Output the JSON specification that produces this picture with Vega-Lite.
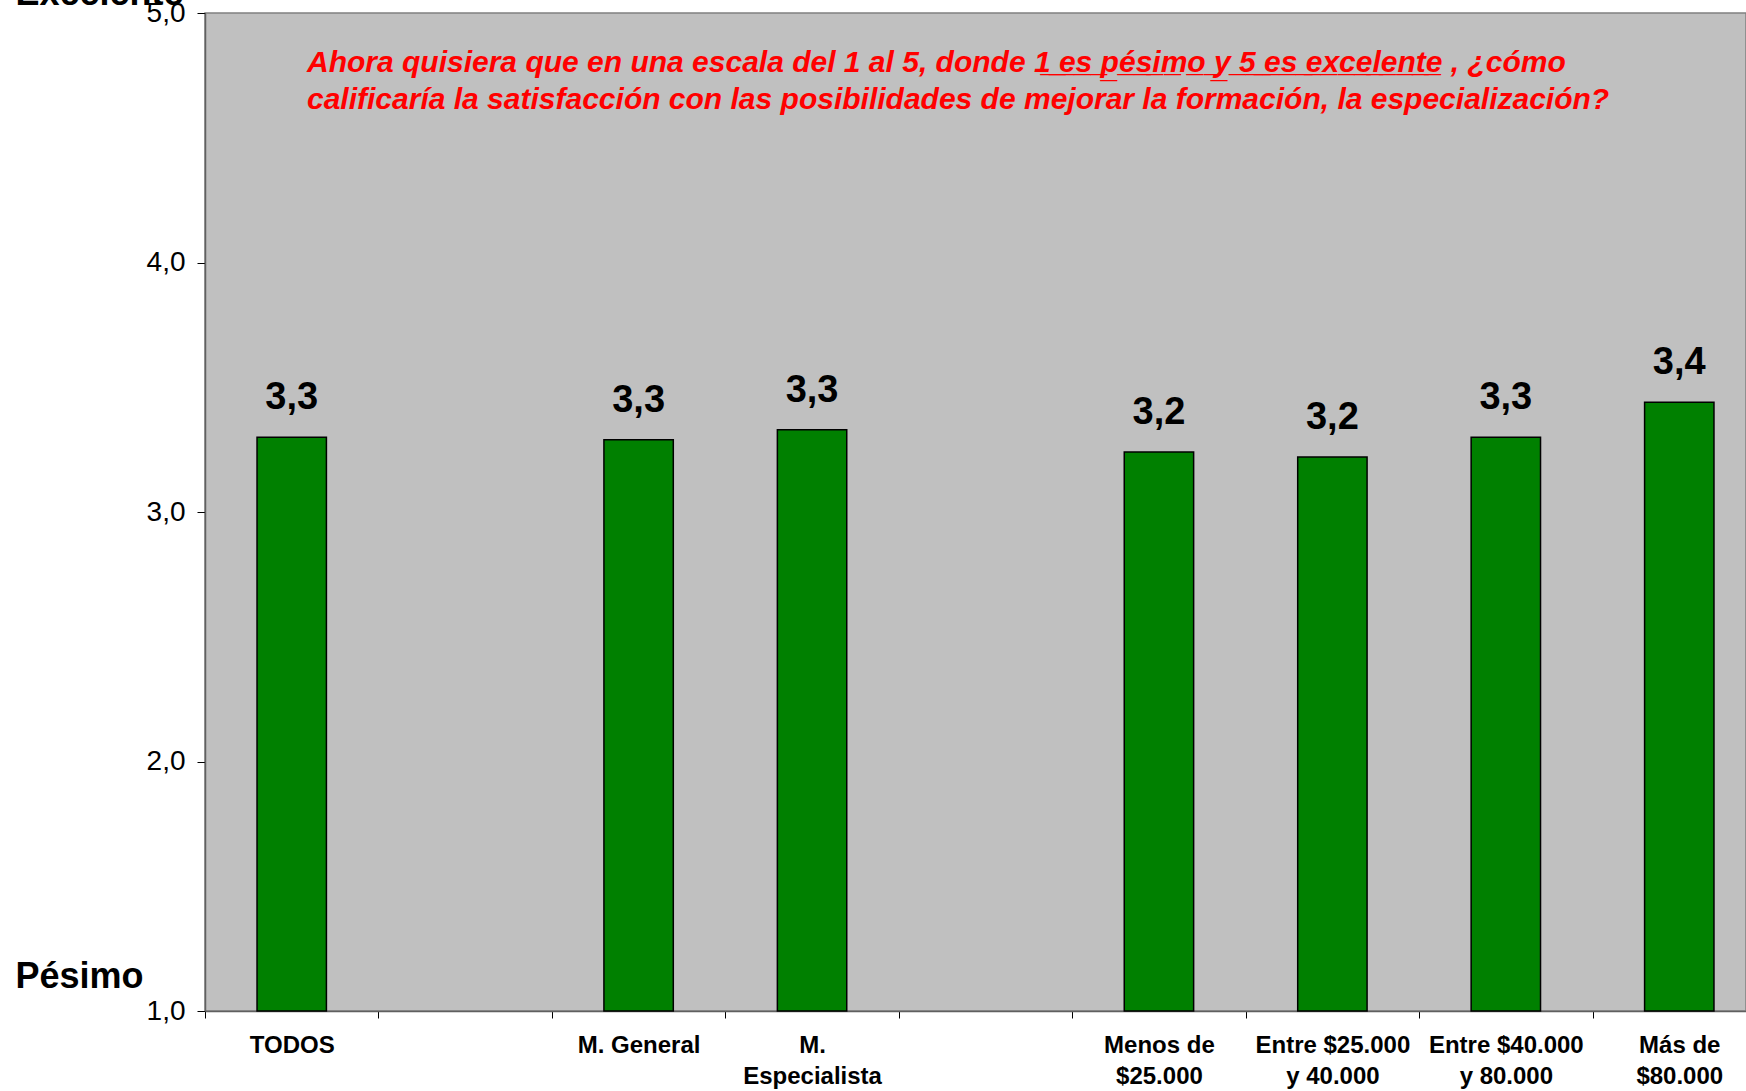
{
  "$schema": "https://vega.github.io/schema/vega-lite/v6.json",
  "width": 1541,
  "height": 998,
  "autosize": {"type": "none"},
  "padding": {"left": 205, "top": 13, "right": 0, "bottom": 80},
  "background": "white",
  "config": {
    "locale": {"number": {"decimal": ",", "thousands": ".", "grouping": [3], "currency": ["$", ""]}},
    "view": {"fill": "#C0C0C0", "stroke": "#808080", "strokeWidth": 1.5},
    "font": "Liberation Sans"
  },
  "title": {
    "text": [
      "Ahora quisiera que en una escala del 1 al 5, donde  1\u0332 \u0332e\u0332s\u0332 \u0332p\u0332é\u0332s\u0332i\u0332m\u0332o\u0332 \u0332y\u0332 \u03325\u0332 \u0332e\u0332s\u0332 \u0332e\u0332x\u0332c\u0332e\u0332l\u0332e\u0332n\u0332t\u0332e\u0332 , ¿cómo",
      "calificaría la satisfacción con las posibilidades de mejorar la formación, la especialización?"
    ],
    "anchor": "start",
    "frame": "group",
    "orient": "top",
    "dx": 102,
    "offset": -140,
    "baseline": "top",
    "font": "Liberation Sans",
    "fontSize": 30,
    "fontWeight": "bold",
    "fontStyle": "italic",
    "color": "#FF0000",
    "lineHeight": 37
  },
  "data": {
    "values": [
      {"grupo": "TODOS", "promedio": 3.30},
      {"grupo": "M. General", "promedio": 3.29},
      {"grupo": "M.\nEspecialista", "promedio": 3.33},
      {"grupo": "Menos de\n$25.000", "promedio": 3.24},
      {"grupo": "Entre $25.000\ny 40.000", "promedio": 3.22},
      {"grupo": "Entre $40.000\ny 80.000", "promedio": 3.30},
      {"grupo": "Más de\n$80.000", "promedio": 3.44}
    ]
  },
  "encoding": {
    "x": {
      "field": "grupo",
      "type": "nominal",
      "sort": null,
      "scale": {
        "domain": ["TODOS", " ", "M. General", "M.\nEspecialista", "  ", "Menos de\n$25.000", "Entre $25.000\ny 40.000", "Entre $40.000\ny 80.000", "Más de\n$80.000"],
        "range": [0, 1561],
        "paddingInner": 0,
        "paddingOuter": 0
      },
      "axis": {
        "title": null,
        "tickBand": "extent",
        "labelExpr": "split(datum.label, '\\n')",
        "labelAngle": 0,
        "labelFont": "Liberation Sans",
        "labelFontSize": 24,
        "labelFontWeight": "bold",
        "labelColor": "#000000",
        "labelLineHeight": 31,
        "labelPadding": 15,
        "labelBaseline": "top",
        "labelOverlap": false,
        "labelLimit": 400,
        "tickSize": 7,
        "tickColor": "#000000",
        "domainColor": "#606060",
        "domainWidth": 1.5,
        "grid": false
      }
    }
  },
  "layer": [
    {
      "mark": {"type": "bar", "width": {"band": 0.4}, "fill": "#008000", "stroke": "#000000", "strokeWidth": 1.5},
      "encoding": {
        "y": {
          "field": "promedio",
          "type": "quantitative",
          "scale": {"domain": [1, 5], "nice": false, "zero": false},
          "axis": {
            "title": null,
            "values": [1, 2, 3, 4, 5],
            "format": ".1f",
            "labelFont": "Liberation Sans",
            "labelFontSize": 28,
            "labelColor": "#000000",
            "labelPadding": 12,
            "tickSize": 8,
            "tickColor": "#000000",
            "domainColor": "#606060",
            "domainWidth": 1.5,
            "grid": false
          }
        },
        "y2": {"datum": 1}
      }
    },
    {
      "mark": {"type": "text", "dy": -39, "baseline": "middle", "font": "Liberation Sans", "fontSize": 38, "fontWeight": "bold", "color": "#000000"},
      "encoding": {
        "y": {
          "field": "promedio",
          "type": "quantitative",
          "scale": {"domain": [1, 5], "nice": false, "zero": false},
          "axis": {
            "orient": "left",
            "title": null,
            "values": [1.06, 5],
            "labelExpr": "datum.value < 3 ? 'Pésimo' : 'Excelente'",
            "ticks": false,
            "tickSize": 0,
            "domain": false,
            "grid": false,
            "labelAlign": "left",
            "labelBaseline": "alphabetic",
            "labelOffset": -9,
            "labelPadding": 190,
            "labelFont": "Liberation Sans",
            "labelFontSize": 36,
            "labelFontWeight": "bold",
            "labelColor": "#000000",
            "labelOverlap": false,
            "labelLimit": 400
          }
        },
        "text": {"field": "promedio", "type": "quantitative", "format": ".1f"}
      }
    }
  ],
  "resolve": {"scale": {"y": "independent"}}
}
